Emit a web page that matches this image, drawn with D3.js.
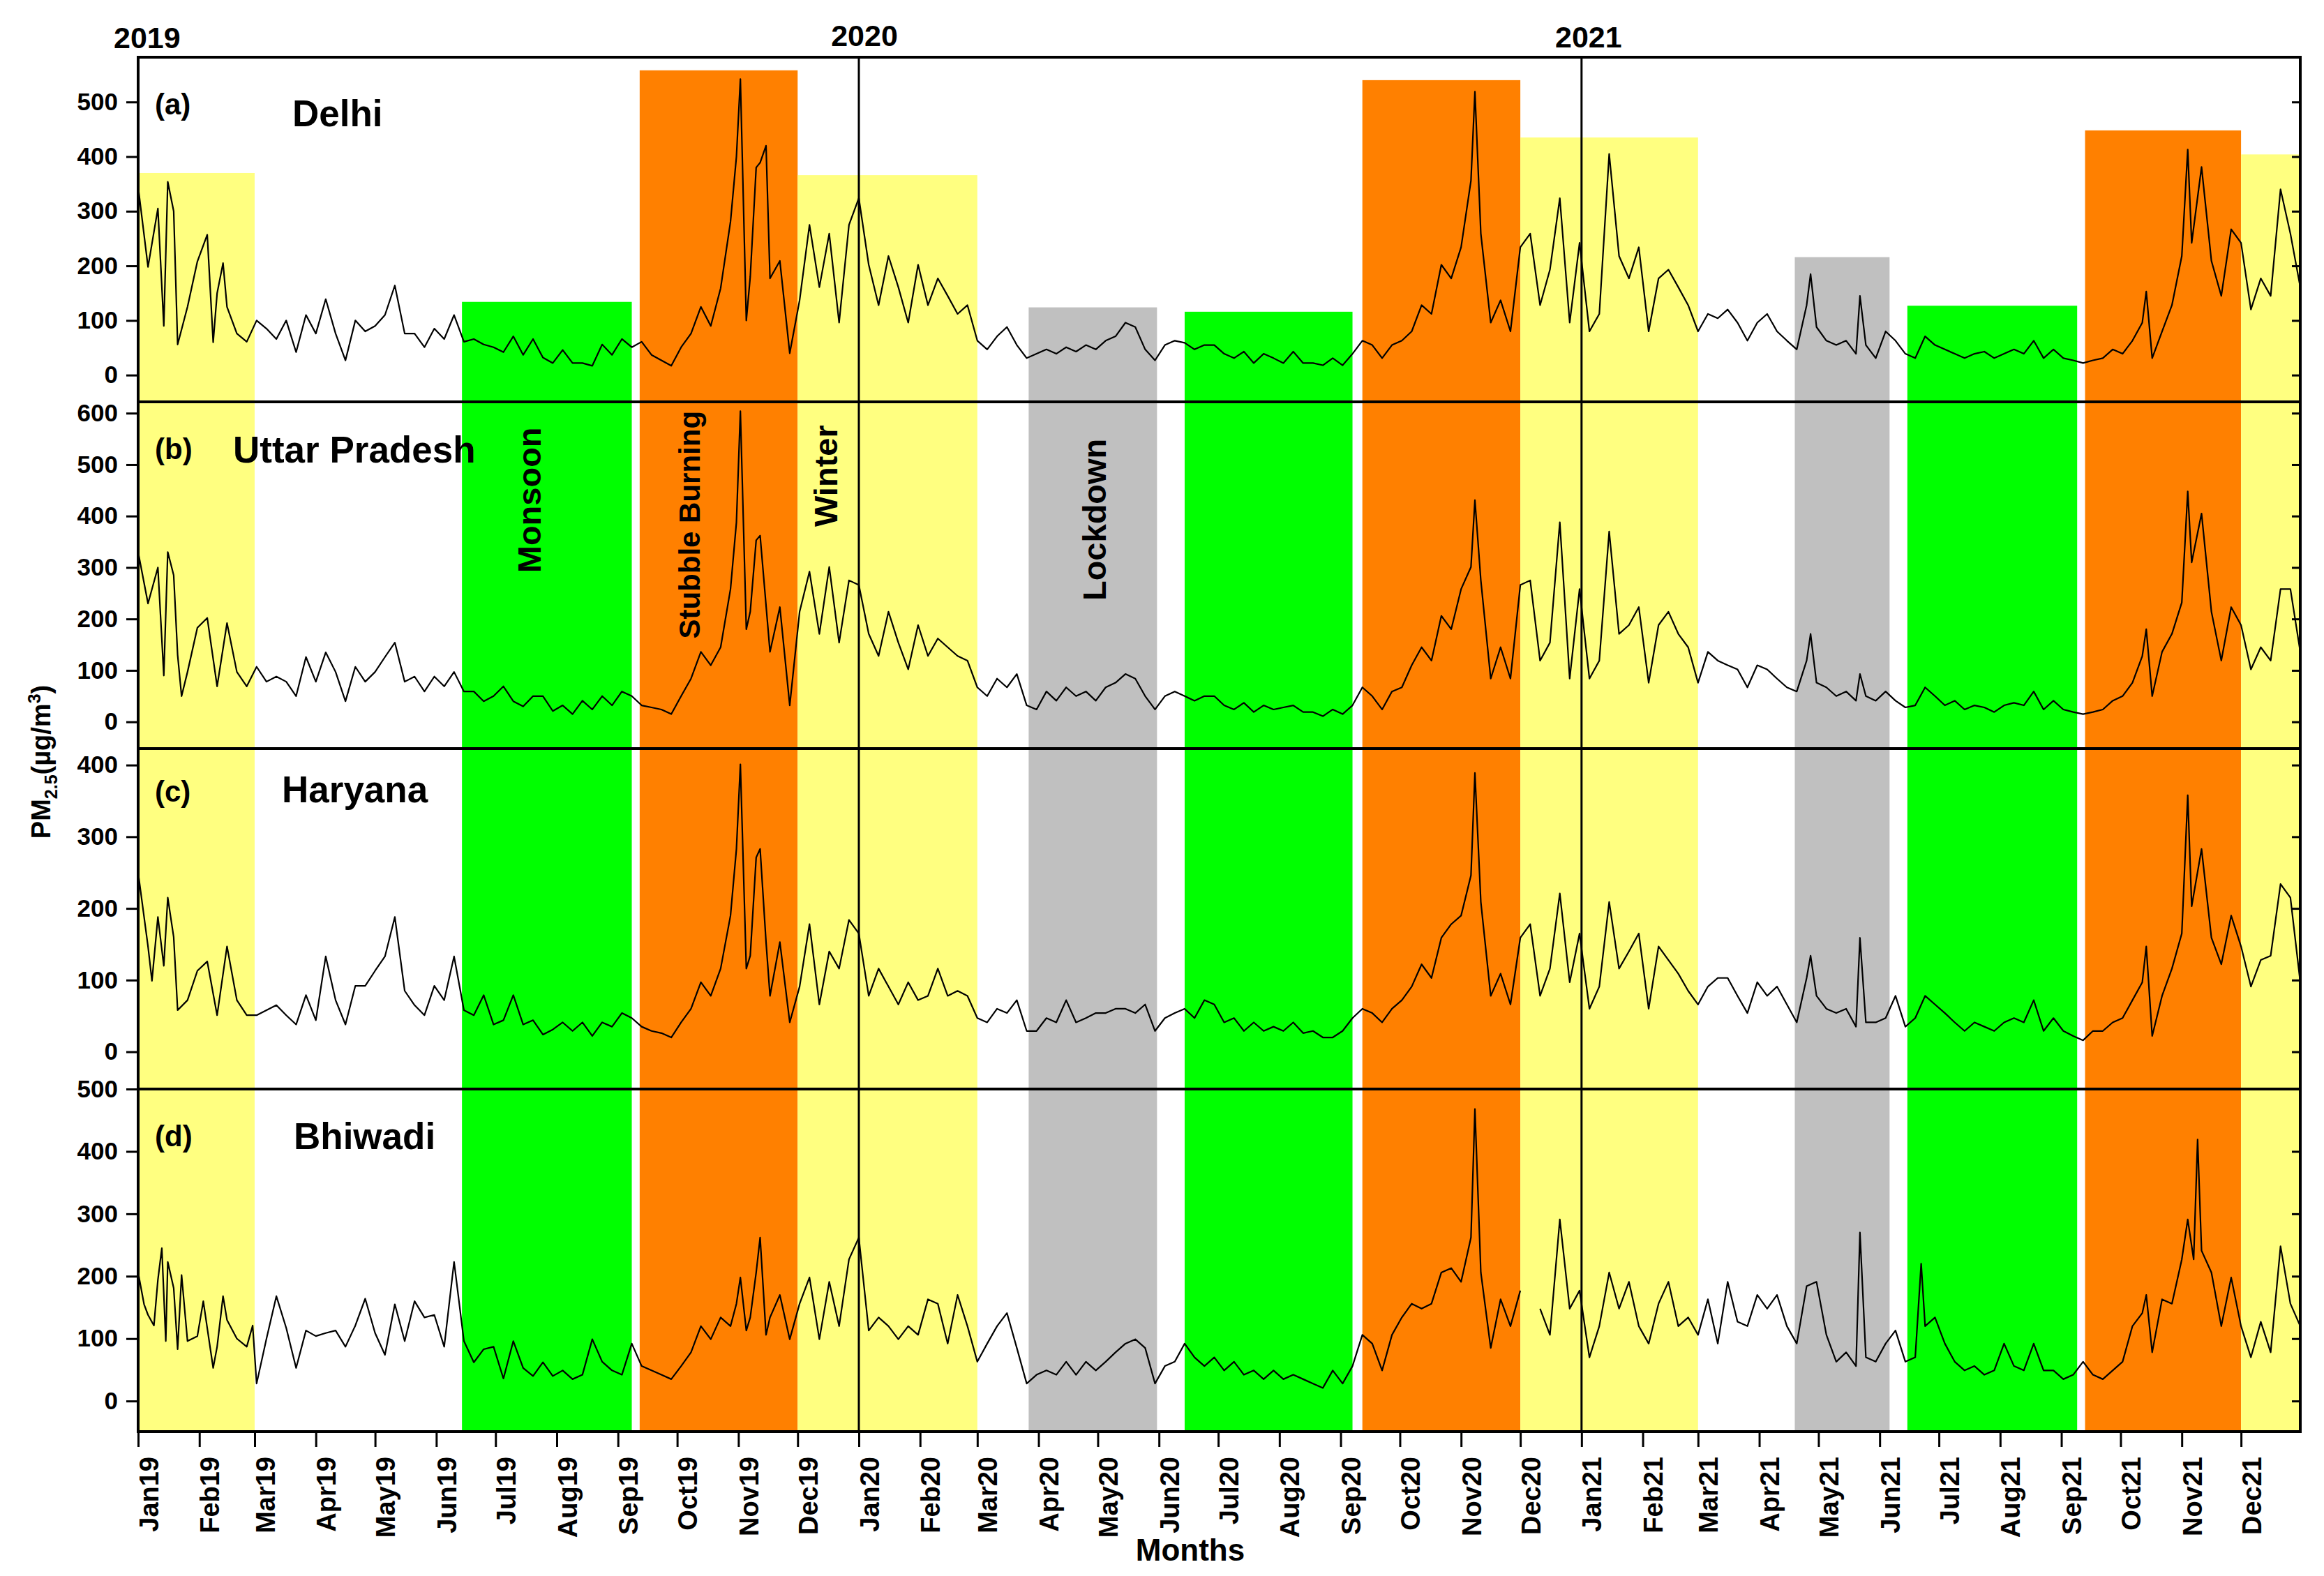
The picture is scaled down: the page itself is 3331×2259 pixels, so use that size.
<!DOCTYPE html>
<html>
<head>
<meta charset="utf-8">
<script src="https://cdn.jsdelivr.net/npm/d3@7"></script>
<style>
  body { margin: 0; background: #fff; }
  text { font-family: "Liberation Sans", Arial, sans-serif; font-weight: bold; fill: #000; }
</style>
</head>
<body>
<script>
/* PM2.5 daily series, four sites, 2019-2021 */
// values are [days since 1 Jan 2019, PM2.5]
var delhi = [[0,345],[5,198],[10,305],[13,90],[15,354],[18,300],[20,56],[25,125],[30,208],[35,257],[38,60],[40,150],[43,205],[45,125],[50,76],[55,61],[60,100],[65,85],[70,66],[75,100],[80,42],[85,110],[90,76],[95,139],[100,76],[105,27],[110,100],[115,80],[120,90],[125,110],[130,164],[135,76],[140,76],[145,51],[150,85],[155,66],[160,110],[165,61],[170,66],[175,56],[180,51],[185,42],[190,71],[195,37],[200,66],[205,32],[210,22],[215,46],[220,22],[225,22],[230,17],[235,56],[240,37],[245,66],[250,51],[255,61],[260,37],[265,27],[270,17],[275,51],[280,76],[285,125],[290,90],[295,159],[300,281],[303,400],[305,542],[308,100],[310,180],[313,380],[315,389],[318,420],[320,177],[325,209],[330,40],[335,137],[340,275],[345,161],[350,259],[355,96],[360,275],[365,324],[370,202],[375,128],[380,218],[385,161],[390,96],[395,202],[400,128],[405,177],[410,145],[415,112],[420,128],[425,63],[430,47],[435,71],[440,88],[445,55],[450,31],[455,39],[460,47],[465,39],[470,51],[475,43],[480,55],[485,47],[490,63],[495,71],[500,96],[505,88],[510,47],[515,27],[520,55],[525,63],[530,59],[535,47],[540,55],[545,55],[550,39],[555,31],[560,43],[565,22],[570,39],[575,31],[580,22],[585,43],[590,22],[595,22],[600,18],[605,31],[610,18],[615,39],[620,63],[625,55],[630,31],[635,55],[640,63],[645,80],[650,128],[655,112],[660,202],[665,177],[670,234],[675,356],[677,519],[680,259],[685,96],[690,137],[695,80],[700,234],[705,259],[710,128],[715,193],[720,324],[725,96],[730,242],[735,80],[740,112],[745,405],[750,218],[755,177],[760,234],[765,80],[770,177],[775,193],[780,161],[785,128],[790,80],[795,112],[800,104],[805,120],[810,96],[815,63],[820,96],[825,112],[830,80],[835,63],[840,47],[845,128],[847,185],[850,88],[855,63],[860,55],[865,63],[870,39],[872,145],[875,55],[880,31],[885,80],[890,63],[895,39],[900,31],[905,71],[910,55],[915,47],[920,39],[925,31],[930,39],[935,43],[940,31],[945,39],[950,47],[955,39],[960,63],[965,31],[970,47],[975,31],[980,27],[985,22],[990,27],[995,31],[1000,47],[1005,39],[1010,63],[1015,96],[1017,153],[1020,31],[1025,80],[1030,128],[1035,218],[1038,413],[1040,242],[1045,381],[1050,209],[1055,145],[1060,267],[1065,242],[1070,120],[1075,177],[1080,145],[1085,340],[1090,259],[1095,161]];

var uttarPradesh = [[0,330],[5,230],[10,300],[13,90],[15,330],[18,285],[20,130],[22,50],[25,97],[30,183],[35,202],[40,69],[45,192],[50,97],[55,69],[60,107],[65,78],[70,88],[75,78],[80,50],[85,126],[90,78],[95,135],[100,97],[105,40],[110,107],[115,78],[120,97],[125,126],[130,154],[135,78],[140,88],[145,59],[150,88],[155,69],[160,97],[165,59],[170,59],[175,40],[180,50],[185,69],[190,40],[195,30],[200,50],[205,50],[210,21],[215,32],[220,15],[225,41],[230,24],[235,50],[240,32],[245,59],[250,50],[255,32],[260,28],[265,24],[270,15],[275,50],[280,84],[285,136],[290,110],[295,145],[300,258],[303,388],[305,604],[308,180],[310,214],[313,353],[315,362],[320,136],[325,223],[330,32],[335,214],[340,292],[345,171],[350,301],[355,154],[360,275],[365,266],[370,171],[375,128],[380,214],[385,154],[390,102],[395,188],[400,128],[405,162],[410,145],[415,128],[420,119],[425,67],[430,50],[435,84],[440,67],[445,93],[450,32],[455,24],[460,59],[465,41],[470,67],[475,50],[480,59],[485,41],[490,67],[495,76],[500,93],[505,84],[510,50],[515,24],[520,50],[525,59],[530,50],[535,41],[540,50],[545,50],[550,32],[555,24],[560,37],[565,19],[570,32],[575,24],[580,28],[585,32],[590,19],[595,19],[600,11],[605,24],[610,15],[615,32],[620,67],[625,50],[630,24],[635,59],[640,67],[645,110],[650,145],[655,119],[660,206],[665,180],[670,258],[675,301],[677,431],[680,275],[685,84],[690,145],[695,84],[700,266],[705,275],[710,119],[715,154],[720,388],[725,84],[730,258],[735,84],[740,119],[745,370],[750,171],[755,188],[760,223],[765,76],[770,188],[775,214],[780,171],[785,145],[790,76],[795,136],[800,119],[805,110],[810,102],[815,67],[820,110],[825,102],[830,84],[835,67],[840,59],[845,119],[847,171],[850,76],[855,67],[860,50],[865,59],[870,41],[872,93],[875,50],[880,41],[885,59],[890,41],[895,28],[900,32],[905,67],[910,50],[915,32],[920,41],[925,24],[930,32],[935,28],[940,19],[945,32],[950,37],[955,32],[960,59],[965,24],[970,41],[975,24],[980,19],[985,15],[990,19],[995,24],[1000,41],[1005,50],[1010,76],[1015,128],[1017,180],[1020,50],[1025,136],[1030,171],[1035,232],[1038,448],[1040,310],[1045,405],[1050,214],[1055,119],[1060,223],[1065,188],[1070,102],[1075,145],[1080,119],[1085,258],[1090,258],[1095,136]];

var haryana = [[0,250],[5,147],[7,99],[10,188],[13,120],[15,215],[18,160],[20,58],[25,72],[30,113],[35,126],[40,51],[45,147],[50,72],[55,51],[60,51],[65,58],[70,65],[75,51],[80,38],[85,79],[90,44],[95,133],[100,72],[105,38],[110,92],[115,92],[120,113],[125,133],[130,188],[135,85],[140,65],[145,51],[150,92],[155,72],[160,133],[165,58],[170,51],[175,79],[180,38],[185,44],[190,79],[195,38],[200,44],[205,24],[210,31],[215,41],[220,29],[225,41],[230,22],[235,41],[240,35],[245,54],[250,47],[255,35],[260,29],[265,26],[270,20],[275,41],[280,60],[285,97],[290,78],[295,116],[300,190],[303,283],[305,401],[308,116],[310,134],[313,271],[315,283],[318,153],[320,78],[325,153],[330,41],[335,91],[340,178],[345,66],[350,140],[355,116],[360,184],[365,165],[370,78],[375,116],[380,91],[385,66],[390,97],[395,72],[400,78],[405,116],[410,78],[415,85],[420,78],[425,47],[430,41],[435,60],[440,54],[445,72],[450,29],[455,29],[460,47],[465,41],[470,72],[475,41],[480,47],[485,54],[490,54],[495,60],[500,60],[505,54],[510,66],[515,29],[520,47],[525,54],[530,60],[535,47],[540,72],[545,66],[550,41],[555,47],[560,29],[565,41],[570,29],[575,35],[580,29],[585,41],[590,26],[595,29],[600,20],[605,20],[610,29],[615,47],[620,60],[625,54],[630,41],[635,60],[640,72],[645,91],[650,122],[655,103],[660,159],[665,178],[670,190],[675,246],[677,389],[680,209],[685,78],[690,109],[695,66],[700,159],[705,178],[710,78],[715,116],[720,221],[725,97],[730,165],[735,60],[740,91],[745,209],[750,116],[755,140],[760,165],[765,60],[770,147],[775,128],[780,109],[785,85],[790,66],[795,91],[800,103],[805,103],[810,78],[815,54],[820,97],[825,78],[830,91],[835,66],[840,41],[845,103],[847,134],[850,78],[855,60],[860,54],[865,60],[870,35],[872,159],[875,41],[880,41],[885,47],[890,78],[895,35],[900,47],[905,78],[910,66],[915,54],[920,41],[925,29],[930,41],[935,35],[940,29],[945,41],[950,47],[955,41],[960,72],[965,29],[970,47],[975,29],[980,22],[985,16],[990,29],[995,29],[1000,41],[1005,47],[1010,72],[1015,97],[1017,147],[1020,22],[1025,78],[1030,116],[1035,165],[1038,358],[1040,203],[1045,283],[1050,159],[1055,122],[1060,190],[1065,147],[1070,91],[1075,128],[1080,134],[1085,234],[1090,215],[1095,97]];

var bhiwadi = [[0,206],[3,155],[5,138],[8,121],[10,194],[12,245],[14,96],[15,223],[18,181],[20,83],[22,202],[25,96],[30,104],[33,160],[35,117],[38,53],[40,87],[43,168],[45,130],[50,100],[55,87],[58,121],[60,28],[65,100],[70,168],[75,117],[80,53],[85,113],[90,104],[95,109],[100,113],[105,87],[110,121],[115,164],[120,109],[125,74],[130,155],[135,96],[140,160],[145,134],[150,138],[155,87],[160,223],[165,96],[170,62],[175,83],[180,87],[185,36],[190,96],[195,53],[200,40],[205,62],[210,40],[215,49],[220,35],[225,42],[230,99],[235,63],[240,49],[245,42],[250,92],[255,56],[260,49],[265,42],[270,35],[275,56],[280,78],[285,120],[290,99],[295,134],[300,120],[303,156],[305,198],[308,113],[310,134],[313,206],[315,262],[318,106],[320,134],[325,170],[330,99],[335,156],[340,198],[345,99],[350,191],[355,120],[360,227],[365,262],[370,113],[375,134],[380,120],[385,99],[390,120],[395,106],[400,163],[405,156],[410,92],[415,170],[420,120],[425,63],[430,92],[435,120],[440,141],[445,85],[450,28],[455,42],[460,49],[465,42],[470,63],[475,42],[480,63],[485,49],[490,63],[495,78],[500,92],[505,99],[510,85],[515,28],[520,56],[525,63],[530,92],[535,70],[540,56],[545,70],[550,49],[555,63],[560,42],[565,49],[570,35],[575,49],[580,35],[585,42],[590,35],[595,28],[600,21],[605,49],[610,28],[615,56],[620,106],[625,92],[630,49],[635,106],[640,134],[645,156],[650,148],[655,156],[660,206],[665,213],[670,191],[675,262],[677,468],[680,206],[685,85],[690,163],[695,120],[700,177],[703,null],[710,148],[715,106],[720,291],[725,148],[730,177],[735,70],[740,120],[745,206],[750,148],[755,191],[760,120],[765,92],[770,156],[775,191],[780,120],[785,134],[790,106],[795,163],[800,92],[805,191],[810,127],[815,120],[820,170],[825,148],[830,170],[835,120],[840,92],[845,184],[850,191],[855,106],[860,63],[865,78],[870,56],[872,270],[875,70],[880,63],[885,92],[890,113],[895,63],[900,70],[903,220],[905,120],[910,134],[915,92],[920,63],[925,49],[930,56],[935,42],[940,49],[945,92],[950,56],[955,49],[960,92],[965,49],[970,49],[975,35],[980,42],[985,63],[990,42],[995,35],[1000,49],[1005,63],[1010,120],[1015,141],[1017,170],[1020,78],[1025,163],[1030,156],[1035,227],[1038,291],[1041,227],[1043,419],[1045,241],[1050,206],[1055,120],[1060,198],[1065,120],[1070,70],[1075,127],[1080,78],[1085,248],[1090,156],[1095,120]];

var panelSeries = [delhi, uttarPradesh, haryana, bhiwadi];
var panelNames = ["Delhi", "Uttar Pradesh", "Haryana", "Bhiwadi"];
var panelLetters = ["(a)", "(b)", "(c)", "(d)"];
var panelTicks = [[0,100,200,300,400,500], [0,100,200,300,400,500,600], [0,100,200,300,400], [0,100,200,300,400,500]];
var panelDomains = [[-49,582], [-52,622], [-52,423], [-49,500]];

// seasons shaded behind the lines
var bandStarts = ["2019-01-01","2019-06-14","2019-09-12","2019-12-01","2020-03-27","2020-06-14","2020-09-12","2020-12-01","2021-04-19","2021-06-15","2021-09-13","2021-12-01"];
var bandEnds   = ["2019-03-01","2019-09-08","2019-12-01","2020-03-01","2020-05-31","2020-09-07","2020-12-01","2021-03-01","2021-06-06","2021-09-09","2021-12-01","2022-01-01"];
var bandKinds  = ["Winter","Monsoon","Stubble","Winter","Lockdown","Monsoon","Stubble","Winter","Lockdown","Monsoon","Stubble","Winter"];
var bandTopDelhi = [370, 134, 558, 366, 124, 116, 540, 435, 216, 127, 448, 404];

var bandLabels = ["Monsoon", "Stubble Burning", "Winter", "Lockdown"];
var bandLabelDates = ["2019-07-18", "2019-10-07", "2019-12-15", "2020-04-29"];
var bandLabelValues = [431, 383, 478, 393];

var yearLabels = ["2019", "2020", "2021"];

var kindColor = { Winter: "#ffff80", Monsoon: "#00ff00", Stubble: "#ff8000", Lockdown: "#c0c0c0" };

var W = 3331, H = 2259;
var left = 198, right = 3297;
var panelTop = [82, 576, 1073, 1561];
var panelBottom = [576, 1073, 1561, 2052];

var parse = d3.timeParse("%Y-%m-%d");
var start = new Date(2019, 0, 1);
function dayDate(n) { return d3.timeDay.offset(start, n); }

var svg = d3.select("body").append("svg")
    .attr("width", W)
    .attr("height", H);

svg.append("rect").attr("width", W).attr("height", H).attr("fill", "#fff");

var x = d3.scaleTime()
    .domain([start, new Date(2021, 11, 31)])
    .range([left, right]);

var yScales = panelDomains.map(function(dom, i) {
    return d3.scaleLinear().domain(dom).range([panelBottom[i], panelTop[i]]);
});

// bands: top panel uses Delhi peak heights, lower three panels are full height
var bands = svg.append("g");
bandStarts.forEach(function(s, i) {
    var x0 = x(parse(s)), x1 = Math.min(x(parse(bandEnds[i])), right);
    var yTop = yScales[0](bandTopDelhi[i]);
    bands.append("rect")
        .attr("x", x0).attr("width", x1 - x0)
        .attr("y", yTop).attr("height", panelBottom[0] - yTop)
        .attr("fill", kindColor[bandKinds[i]]);
    bands.append("rect")
        .attr("x", x0).attr("width", x1 - x0)
        .attr("y", panelTop[1]).attr("height", panelBottom[3] - panelTop[1])
        .attr("fill", kindColor[bandKinds[i]]);
});

// band names in panel b
bandLabels.forEach(function(t, i) {
    var bx = x(parse(bandLabelDates[i])), by = yScales[1](bandLabelValues[i]);
    svg.append("text")
        .attr("transform", "translate(" + bx + "," + by + ") rotate(-90)")
        .attr("text-anchor", "middle")
        .attr("dy", "0.36em")
        .style("font-size", t == "Stubble Burning" ? "42px" : "47px")
        .text(t);
});

// year separators
[new Date(2020, 0, 1), new Date(2021, 0, 1)].forEach(function(d) {
    svg.append("line")
        .attr("x1", x(d)).attr("x2", x(d))
        .attr("y1", panelTop[0]).attr("y2", panelBottom[3])
        .attr("stroke", "#000").attr("stroke-width", 3);
});

// the series
panelSeries.forEach(function(series, i) {
    var y = yScales[i];
    var line = d3.line()
        .defined(function(d) { return d[1] != null; })
        .x(function(d) { return x(dayDate(d[0])); })
        .y(function(d) { return y(d[1]); });
    svg.append("path")
        .datum(series)
        .attr("d", line)
        .attr("fill", "none")
        .attr("stroke", "#000")
        .attr("stroke-width", 2.2)
        .attr("stroke-linejoin", "round");

    var ax = svg.append("g")
        .attr("transform", "translate(" + left + ",0)")
        .call(d3.axisLeft(y).tickValues(panelTicks[i]).tickSize(17).tickPadding(12));
    ax.select(".domain").remove();
    ax.selectAll("line").attr("stroke-width", 3);
    ax.selectAll("text").style("font-size", "35px").style("font-family", null);

    var axr = svg.append("g")
        .attr("transform", "translate(" + right + ",0)")
        .call(d3.axisLeft(y).tickValues(panelTicks[i]).tickSize(12).tickFormat(""));
    axr.select(".domain").remove();
    axr.selectAll("line").attr("stroke-width", 3);

    svg.append("text")
        .attr("x", 222).attr("y", panelTop[i] + [82, 82, 76, 82][i])
        .style("font-size", "42px")
        .text(panelLetters[i]);
    svg.append("text")
        .attr("x", [419, 334, 404, 421][i]).attr("y", panelTop[i] + [99, 87, 77, 86][i])
        .style("font-size", "53px")
        .text(panelNames[i]);
});

// frame and panel dividers
svg.append("rect")
    .attr("x", left).attr("y", panelTop[0])
    .attr("width", right - left).attr("height", panelBottom[3] - panelTop[0])
    .attr("fill", "none").attr("stroke", "#000").attr("stroke-width", 4);
panelTop.slice(1).forEach(function(py) {
    svg.append("line")
        .attr("x1", left).attr("x2", right)
        .attr("y1", py).attr("y2", py)
        .attr("stroke", "#000").attr("stroke-width", 4);
});

// month axis
var xa = svg.append("g")
    .attr("transform", "translate(0," + panelBottom[3] + ")")
    .call(d3.axisBottom(x)
        .tickValues(d3.timeMonth.range(start, new Date(2022, 0, 1)))
        .tickFormat(d3.timeFormat("%b%y"))
        .tickSize(22));
xa.select(".domain").remove();
xa.selectAll("line").attr("stroke-width", 3);
xa.selectAll("text")
    .style("font-size", "38px").style("font-family", null)
    .attr("text-anchor", "end")
    .attr("transform", "rotate(-90)")
    .attr("x", -36).attr("y", 0).attr("dy", "0.74em");

svg.append("text")
    .attr("x", 1706).attr("y", 2237)
    .attr("text-anchor", "middle")
    .style("font-size", "44px")
    .text("Months");

// year labels above the frame
svg.append("text").attr("x", 163).attr("y", 69).style("font-size", "43px").text(yearLabels[0]);
svg.append("text").attr("x", x(new Date(2020, 0, 1)) + 8).attr("y", 66).attr("text-anchor", "middle").style("font-size", "43px").text(yearLabels[1]);
svg.append("text").attr("x", x(new Date(2021, 0, 1)) + 10).attr("y", 68).attr("text-anchor", "middle").style("font-size", "43px").text(yearLabels[2]);

// y title
var yt = svg.append("text")
    .attr("transform", "translate(72,1092) rotate(-90)")
    .attr("text-anchor", "middle")
    .style("font-size", "38px");
yt.append("tspan").text("PM");
yt.append("tspan").attr("dy", 10).style("font-size", "25px").text("2.5");
yt.append("tspan").attr("dy", -10).text("(µg/m");
yt.append("tspan").attr("dy", -14).style("font-size", "25px").text("3");
yt.append("tspan").attr("dy", 14).text(")");
</script>
</body>
</html>
